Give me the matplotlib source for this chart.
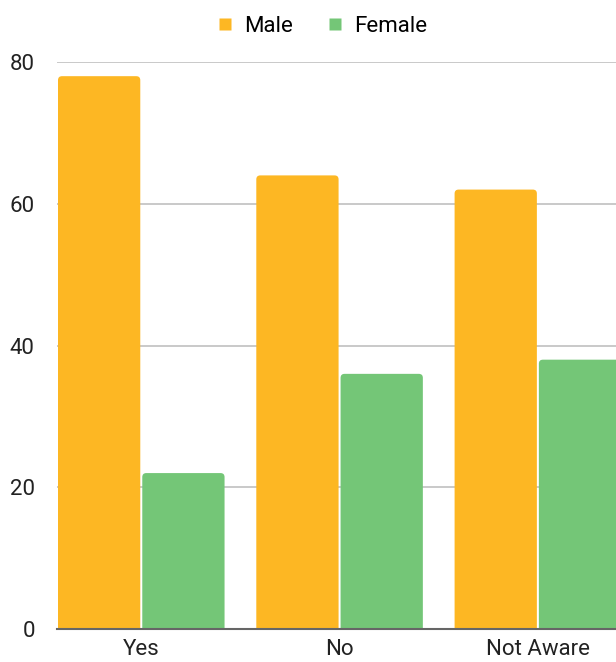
import matplotlib.pyplot as plt
import numpy as np
from matplotlib.patches import FancyBboxPatch
from matplotlib.lines import Line2D

categories = ["Yes", "No", "Not Aware"]
male = [78, 64, 62]
female = [22, 36, 38]
yticks = [0, 20, 40, 60, 80]

ORANGE = "#FDB723"
GREEN = "#74C677"

plt.rcParams["font.family"] = ["Roboto", "DejaVu Sans"]

fig = plt.figure(figsize=(6.16, 6.62), dpi=100)
ax = fig.add_axes([57 / 616, 33 / 662, 1 - 57 / 616, (629 - 62) / 662])

x = np.arange(len(categories))
w = 0.425
bars_m = ax.bar(x - w / 2, male, w, color=ORANGE, label="Male", zorder=3)
bars_f = ax.bar(x + w / 2, female, w, color=GREEN, label="Female", zorder=3)

ax.set_xlim(-w, 2.394)
ax.set_ylim(0, 80)

# swap plain rectangles for ones with rounded tops
px_x = (2.394 + w) / 559
px_y = 80 / 567
r = 4 * px_x
for bars in (bars_m, bars_f):
    for p in bars:
        x0, wd, h = p.get_x(), p.get_width(), p.get_height()
        gap = 1 * px_x
        box = FancyBboxPatch((x0 + gap, -2), wd - 2 * gap, h + 2,
                             boxstyle=f"round,pad=0,rounding_size={r}",
                             mutation_aspect=px_y / px_x,
                             facecolor=p.get_facecolor(), edgecolor="none",
                             zorder=3)
        ax.add_patch(box)
        p.set_visible(False)

ax.set_yticks(yticks)
ax.set_xticks(x)
ax.set_xticklabels(categories)
ax.tick_params(axis="both", length=0, labelsize=16, colors="#222222")
ax.tick_params(axis="y", pad=16)
ax.tick_params(axis="x", pad=7)
ax.grid(axis="y", color="#c0c0c0", linewidth=1.2, zorder=0)
for s in ["top", "right", "left"]:
    ax.spines[s].set_visible(False)
ax.spines["bottom"].set_color("#666666")
ax.spines["bottom"].set_linewidth(1.5)
ax.spines["bottom"].set_zorder(4)

handles = [Line2D([], [], marker="s", color="none", markerfacecolor=c,
                  markeredgecolor="none", markersize=8) for c in (ORANGE, GREEN)]
fig.legend(handles, ["Male", "Female"], loc="center", bbox_to_anchor=(322 / 616, 1 - 26 / 662),
           ncol=2, frameon=False, fontsize=16, handlelength=0.8, handletextpad=0.45,
           columnspacing=1.5)

fig.savefig("out.png", dpi=100)
